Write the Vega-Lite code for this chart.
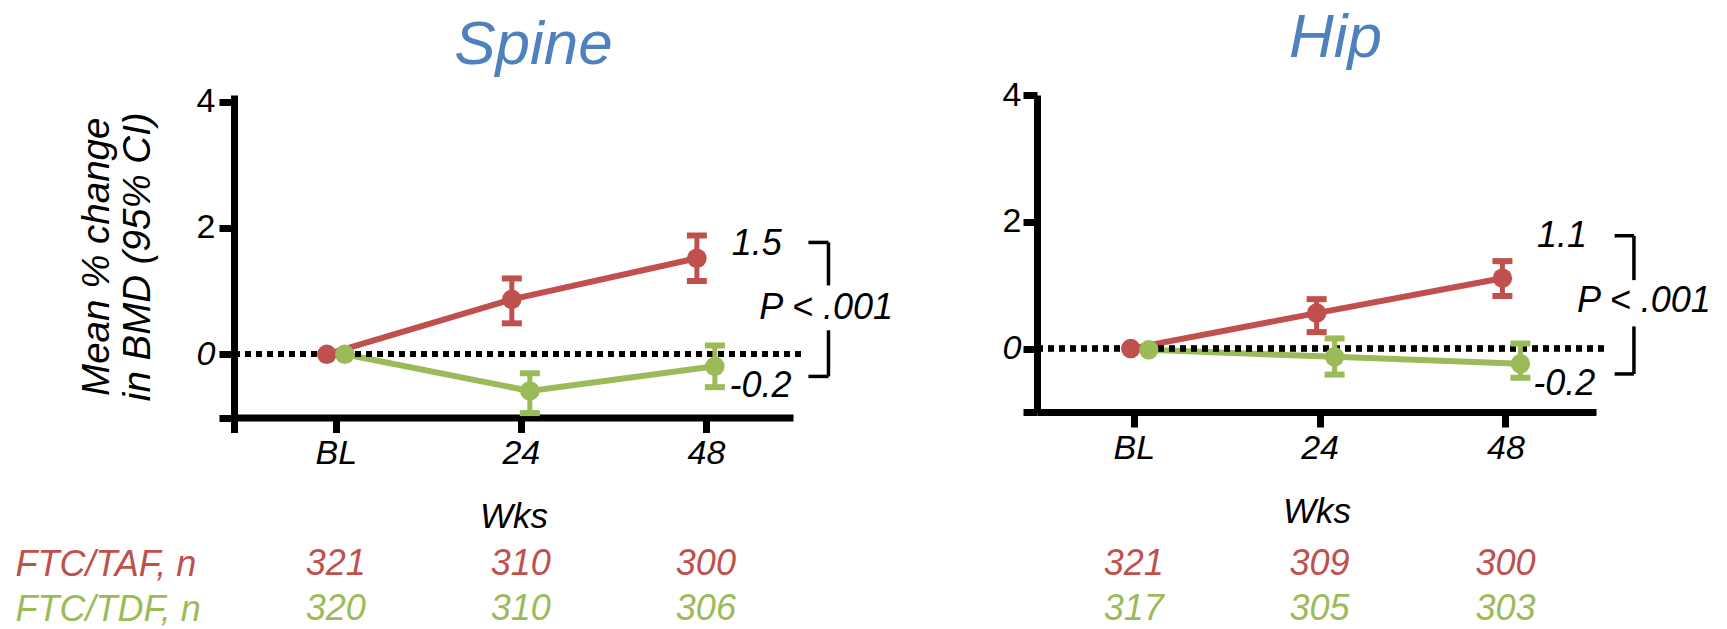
{
  "$schema": "https://vega.github.io/schema/vega-lite/v6.json",
  "padding": {"left": 15, "top": 7, "right": 5, "bottom": 0},
  "background": "white",
  "datasets": {
    "spine": [
      {"week": 0, "group": "FTC/TAF", "val": 0},
      {"week": 24, "group": "FTC/TAF", "val": 0.87, "lo": 0.49, "hi": 1.2},
      {"week": 48, "group": "FTC/TAF", "val": 1.52, "lo": 1.16, "hi": 1.88},
      {"week": 0, "group": "FTC/TDF", "val": 0},
      {"week": 24, "group": "FTC/TDF", "val": -0.58, "lo": -0.93, "hi": -0.3},
      {"week": 48, "group": "FTC/TDF", "val": -0.19, "lo": -0.52, "hi": 0.14}
    ],
    "hip": [
      {"week": 0, "group": "FTC/TAF", "val": 0},
      {"week": 24, "group": "FTC/TAF", "val": 0.56, "lo": 0.26, "hi": 0.78},
      {"week": 48, "group": "FTC/TAF", "val": 1.11, "lo": 0.83, "hi": 1.38},
      {"week": 0, "group": "FTC/TDF", "val": -0.02},
      {"week": 24, "group": "FTC/TDF", "val": -0.13, "lo": -0.41, "hi": 0.16},
      {"week": 48, "group": "FTC/TDF", "val": -0.24, "lo": -0.46, "hi": 0.08}
    ],
    "n_spine": [
      {"week": 0, "group": "FTC/TAF", "row": "FTC/TAF, n", "n": "321"},
      {"week": 24, "group": "FTC/TAF", "row": "FTC/TAF, n", "n": "310"},
      {"week": 48, "group": "FTC/TAF", "row": "FTC/TAF, n", "n": "300"},
      {"week": 0, "group": "FTC/TDF", "row": "FTC/TDF, n", "n": "320"},
      {"week": 24, "group": "FTC/TDF", "row": "FTC/TDF, n", "n": "310"},
      {"week": 48, "group": "FTC/TDF", "row": "FTC/TDF, n", "n": "306"}
    ],
    "n_hip": [
      {"week": 0, "group": "FTC/TAF", "row": "FTC/TAF, n", "n": "321"},
      {"week": 24, "group": "FTC/TAF", "row": "FTC/TAF, n", "n": "309"},
      {"week": 48, "group": "FTC/TAF", "row": "FTC/TAF, n", "n": "300"},
      {"week": 0, "group": "FTC/TDF", "row": "FTC/TDF, n", "n": "317"},
      {"week": 24, "group": "FTC/TDF", "row": "FTC/TDF, n", "n": "305"},
      {"week": 48, "group": "FTC/TDF", "row": "FTC/TDF, n", "n": "303"}
    ],
    "ann_spine": [
      {"week": 54.6, "val": 1.75, "label": "1.5"},
      {"week": 63.6, "val": 0.74, "label": "P < .001"},
      {"week": 55.1, "val": -0.5, "label": "-0.2"}
    ],
    "ann_hip": [
      {"week": 55.3, "val": 1.78, "label": "1.1"},
      {"week": 65.9, "val": 0.75, "label": "P < .001"},
      {"week": 55.6, "val": -0.56, "label": "-0.2"}
    ],
    "br_spine": [
      {"week": 61.3, "week2": 63.9, "val": 1.77, "val2": 1.77},
      {"week": 63.9, "week2": 63.9, "val": 1.77, "val2": 1.09},
      {"week": 63.9, "week2": 63.9, "val": 0.38, "val2": -0.35},
      {"week": 61.3, "week2": 63.9, "val": -0.35, "val2": -0.35}
    ],
    "br_hip": [
      {"week": 62.1, "week2": 64.6, "val": 1.78, "val2": 1.78},
      {"week": 64.6, "week2": 64.6, "val": 1.78, "val2": 1.08},
      {"week": 64.6, "week2": 64.6, "val": 0.35, "val2": -0.4},
      {"week": 62.1, "week2": 64.6, "val": -0.4, "val2": -0.4}
    ]
  },
  "hconcat": [
    {
      "width": 559,
      "height": 322.5,
      "title": {"text": "Spine", "fontSize": 62, "fontStyle": "italic", "fontWeight": "normal", "color": "#4f81bd", "anchor": "middle", "frame": "group", "baseline": "alphabetic", "offset": -41, "dx": 20, "font": "Liberation Sans"},
      "layer": [
        {
          "data": {"name": "spine"},
          "encoding": {
            "x": {"field": "week", "type": "quantitative", "scale": {"domain": [-13.2, 59.3], "nice": false, "zero": false},
              "axis": {"values": [-13.2, 0, 24, 48], "labelExpr": "datum.value == 0 ? 'BL' : (datum.value < 0 ? '' : datum.label)", "tickSize": 15, "labelPadding": 4, "labelFontStyle": "italic", "title": "Wks", "titlePadding": 29}},
            "y": {"field": "val", "type": "quantitative", "scale": {"domain": [-1, 4.103], "nice": false, "zero": false},
              "axis": {"values": [-1, 0, 2, 4], "labelExpr": "datum.value < 0 ? '' : datum.label", "tickSize": 15, "labelPadding": 4, "labelFontStyle": {"condition": {"test": "datum.value == 0", "value": "italic"}, "value": "normal"}, "title": ["Mean % change", "in BMD (95% CI)"], "titleFontSize": 38.5, "titleLineHeight": 41, "titlePadding": 39}},
            "color": {"field": "group", "type": "nominal", "scale": {"domain": ["FTC/TAF", "FTC/TDF"], "range": ["#c0504d", "#9bbb59"]}, "legend": null}
          },
          "layer": [
            {"transform": [{"filter": "datum.group == 'FTC/TAF'"}], "mark": {"type": "line", "strokeWidth": 6, "xOffset": -9}},
            {"transform": [{"filter": "datum.group == 'FTC/TDF'"}], "mark": {"type": "line", "strokeWidth": 6, "xOffset": 9}},
            {"mark": {"type": "rule", "color": "black", "strokeWidth": 5.5, "strokeDash": [6, 5]}, "encoding": {"x": {"datum": -13.2}, "x2": {"datum": 60.8}, "y": {"datum": 0}, "color": {"value": "black"}}},
            {"data": {"name": "br_spine"}, "mark": {"type": "rule", "color": "black", "strokeWidth": 3.5}, "encoding": {"x2": {"field": "week2"}, "y2": {"field": "val2"}, "color": {"value": "black"}}},
            {"data": {"name": "ann_spine"}, "mark": {"type": "text", "fontSize": 36, "fontStyle": "italic", "align": "center", "baseline": "middle", "color": "black"}, "encoding": {"text": {"field": "label"}, "color": {"value": "black"}}},
            {"transform": [{"filter": "datum.group == 'FTC/TAF' && datum.lo != null"}], "mark": {"type": "rule", "strokeWidth": 5, "xOffset": -9}, "encoding": {"y": {"field": "lo", "type": "quantitative"}, "y2": {"field": "hi"}}},
            {"transform": [{"filter": "datum.group == 'FTC/TAF' && datum.lo != null"}], "mark": {"type": "tick", "orient": "horizontal", "size": 20, "thickness": 6, "opacity": 1, "xOffset": -9}, "encoding": {"y": {"field": "lo", "type": "quantitative"}}},
            {"transform": [{"filter": "datum.group == 'FTC/TAF' && datum.lo != null"}], "mark": {"type": "tick", "orient": "horizontal", "size": 20, "thickness": 6, "opacity": 1, "xOffset": -9}, "encoding": {"y": {"field": "hi", "type": "quantitative"}}},
            {"transform": [{"filter": "datum.group == 'FTC/TDF' && datum.lo != null"}], "mark": {"type": "rule", "strokeWidth": 5, "xOffset": 9}, "encoding": {"y": {"field": "lo", "type": "quantitative"}, "y2": {"field": "hi"}}},
            {"transform": [{"filter": "datum.group == 'FTC/TDF' && datum.lo != null"}], "mark": {"type": "tick", "orient": "horizontal", "size": 20, "thickness": 6, "opacity": 1, "xOffset": 9}, "encoding": {"y": {"field": "lo", "type": "quantitative"}}},
            {"transform": [{"filter": "datum.group == 'FTC/TDF' && datum.lo != null"}], "mark": {"type": "tick", "orient": "horizontal", "size": 20, "thickness": 6, "opacity": 1, "xOffset": 9}, "encoding": {"y": {"field": "hi", "type": "quantitative"}}},
            {"transform": [{"filter": "datum.group == 'FTC/TAF'"}], "mark": {"type": "point", "filled": true, "opacity": 1, "size": 380, "xOffset": -9}},
            {"transform": [{"filter": "datum.group == 'FTC/TDF'"}], "mark": {"type": "point", "filled": true, "opacity": 1, "size": 380, "xOffset": 9}}
          ]
        },
        {
          "data": {"name": "n_spine"},
          "mark": {"type": "text", "fontSize": 36, "fontStyle": "italic", "align": "center", "baseline": "middle"},
          "encoding": {
            "x": {"field": "week", "type": "quantitative", "scale": {"domain": [-13.2, 59.3], "nice": false, "zero": false}},
            "y": {"field": "row", "type": "nominal", "scale": {"type": "point", "domain": ["FTC/TAF, n", "FTC/TDF, n"], "range": [469, 514], "padding": 0},
              "axis": {"orient": "left", "title": null, "domain": false, "ticks": false, "tickSize": 0, "labelPadding": 219, "labelAlign": "left", "labelBaseline": "middle", "labelFontSize": 36, "labelFontStyle": "italic", "labelLimit": 400, "labelColor": {"condition": {"test": "datum.value === 'FTC/TAF, n'", "value": "#c0504d"}, "value": "#9bbb59"}}},
            "text": {"field": "n"},
            "color": {"field": "group", "type": "nominal", "scale": {"domain": ["FTC/TAF", "FTC/TDF"], "range": ["#c0504d", "#9bbb59"]}, "legend": null}
          }
        }
      ],
      "resolve": {"scale": {"y": "independent"}, "axis": {"y": "independent"}}
    },
    {
      "width": 559,
      "height": 317,
      "title": {"text": "Hip", "fontSize": 62, "fontStyle": "italic", "fontWeight": "normal", "color": "#4f81bd", "anchor": "middle", "frame": "group", "baseline": "alphabetic", "offset": -41, "dx": 19, "font": "Liberation Sans"},
      "layer": [
        {
          "data": {"name": "hip"},
          "encoding": {
            "x": {"field": "week", "type": "quantitative", "scale": {"domain": [-12.5, 59.7], "nice": false, "zero": false},
              "axis": {"values": [0, 24, 48], "labelExpr": "datum.value == 0 ? 'BL' : datum.label", "tickSize": 15, "labelPadding": 4, "labelFontStyle": "italic", "title": "Wks", "titlePadding": 29}},
            "y": {"field": "val", "type": "quantitative", "scale": {"domain": [-1, 4], "nice": false, "zero": false},
              "axis": {"values": [-1, 0, 2, 4], "labelExpr": "datum.value < 0 ? '' : datum.label", "tickSize": 14, "labelPadding": 2, "labelFontStyle": {"condition": {"test": "datum.value == 0", "value": "italic"}, "value": "normal"}, "title": null}},
            "color": {"field": "group", "type": "nominal", "scale": {"domain": ["FTC/TAF", "FTC/TDF"], "range": ["#c0504d", "#9bbb59"]}, "legend": null}
          },
          "layer": [
            {"transform": [{"filter": "datum.group == 'FTC/TAF'"}], "mark": {"type": "line", "strokeWidth": 6, "xOffset": -3}},
            {"transform": [{"filter": "datum.group == 'FTC/TDF'"}], "mark": {"type": "line", "strokeWidth": 6, "xOffset": 15}},
            {"mark": {"type": "rule", "color": "black", "strokeWidth": 5.5, "strokeDash": [6, 5]}, "encoding": {"x": {"datum": -12.5}, "x2": {"datum": 61.2}, "y": {"datum": 0}, "color": {"value": "black"}}},
            {"data": {"name": "br_hip"}, "mark": {"type": "rule", "color": "black", "strokeWidth": 3.5}, "encoding": {"x2": {"field": "week2"}, "y2": {"field": "val2"}, "color": {"value": "black"}}},
            {"data": {"name": "ann_hip"}, "mark": {"type": "text", "fontSize": 36, "fontStyle": "italic", "align": "center", "baseline": "middle", "color": "black"}, "encoding": {"text": {"field": "label"}, "color": {"value": "black"}}},
            {"transform": [{"filter": "datum.group == 'FTC/TAF' && datum.lo != null"}], "mark": {"type": "rule", "strokeWidth": 5, "xOffset": -3}, "encoding": {"y": {"field": "lo", "type": "quantitative"}, "y2": {"field": "hi"}}},
            {"transform": [{"filter": "datum.group == 'FTC/TAF' && datum.lo != null"}], "mark": {"type": "tick", "orient": "horizontal", "size": 20, "thickness": 6, "opacity": 1, "xOffset": -3}, "encoding": {"y": {"field": "lo", "type": "quantitative"}}},
            {"transform": [{"filter": "datum.group == 'FTC/TAF' && datum.lo != null"}], "mark": {"type": "tick", "orient": "horizontal", "size": 20, "thickness": 6, "opacity": 1, "xOffset": -3}, "encoding": {"y": {"field": "hi", "type": "quantitative"}}},
            {"transform": [{"filter": "datum.group == 'FTC/TDF' && datum.lo != null"}], "mark": {"type": "rule", "strokeWidth": 5, "xOffset": 15}, "encoding": {"y": {"field": "lo", "type": "quantitative"}, "y2": {"field": "hi"}}},
            {"transform": [{"filter": "datum.group == 'FTC/TDF' && datum.lo != null"}], "mark": {"type": "tick", "orient": "horizontal", "size": 20, "thickness": 6, "opacity": 1, "xOffset": 15}, "encoding": {"y": {"field": "lo", "type": "quantitative"}}},
            {"transform": [{"filter": "datum.group == 'FTC/TDF' && datum.lo != null"}], "mark": {"type": "tick", "orient": "horizontal", "size": 20, "thickness": 6, "opacity": 1, "xOffset": 15}, "encoding": {"y": {"field": "hi", "type": "quantitative"}}},
            {"transform": [{"filter": "datum.group == 'FTC/TAF'"}], "mark": {"type": "point", "filled": true, "opacity": 1, "size": 380, "xOffset": -3}},
            {"transform": [{"filter": "datum.group == 'FTC/TDF'"}], "mark": {"type": "point", "filled": true, "opacity": 1, "size": 380, "xOffset": 15}}
          ]
        },
        {
          "data": {"name": "n_hip"},
          "mark": {"type": "text", "fontSize": 36, "fontStyle": "italic", "align": "center", "baseline": "middle"},
          "encoding": {
            "x": {"field": "week", "type": "quantitative", "scale": {"domain": [-12.5, 59.7], "nice": false, "zero": false}},
            "y": {"field": "row", "type": "nominal", "scale": {"type": "point", "domain": ["FTC/TAF, n", "FTC/TDF, n"], "range": [469, 514], "padding": 0}, "axis": null},
            "text": {"field": "n"},
            "color": {"field": "group", "type": "nominal", "scale": {"domain": ["FTC/TAF", "FTC/TDF"], "range": ["#c0504d", "#9bbb59"]}, "legend": null}
          }
        }
      ],
      "resolve": {"scale": {"y": "independent"}, "axis": {"y": "independent"}}
    }
  ],
  "spacing": 244,
  "bounds": "flush",
  "config": {
    "view": {"stroke": null},
    "font": "Liberation Sans",
    "axis": {"domainColor": "black", "domainWidth": 7, "tickColor": "black", "tickWidth": 7, "labelColor": "black", "labelFontSize": 34, "labelFont": "Liberation Sans", "titleFont": "Liberation Sans", "titleColor": "black", "grid": false, "titleFontWeight": "normal", "titleFontStyle": "italic", "titleFontSize": 35}
  }
}
